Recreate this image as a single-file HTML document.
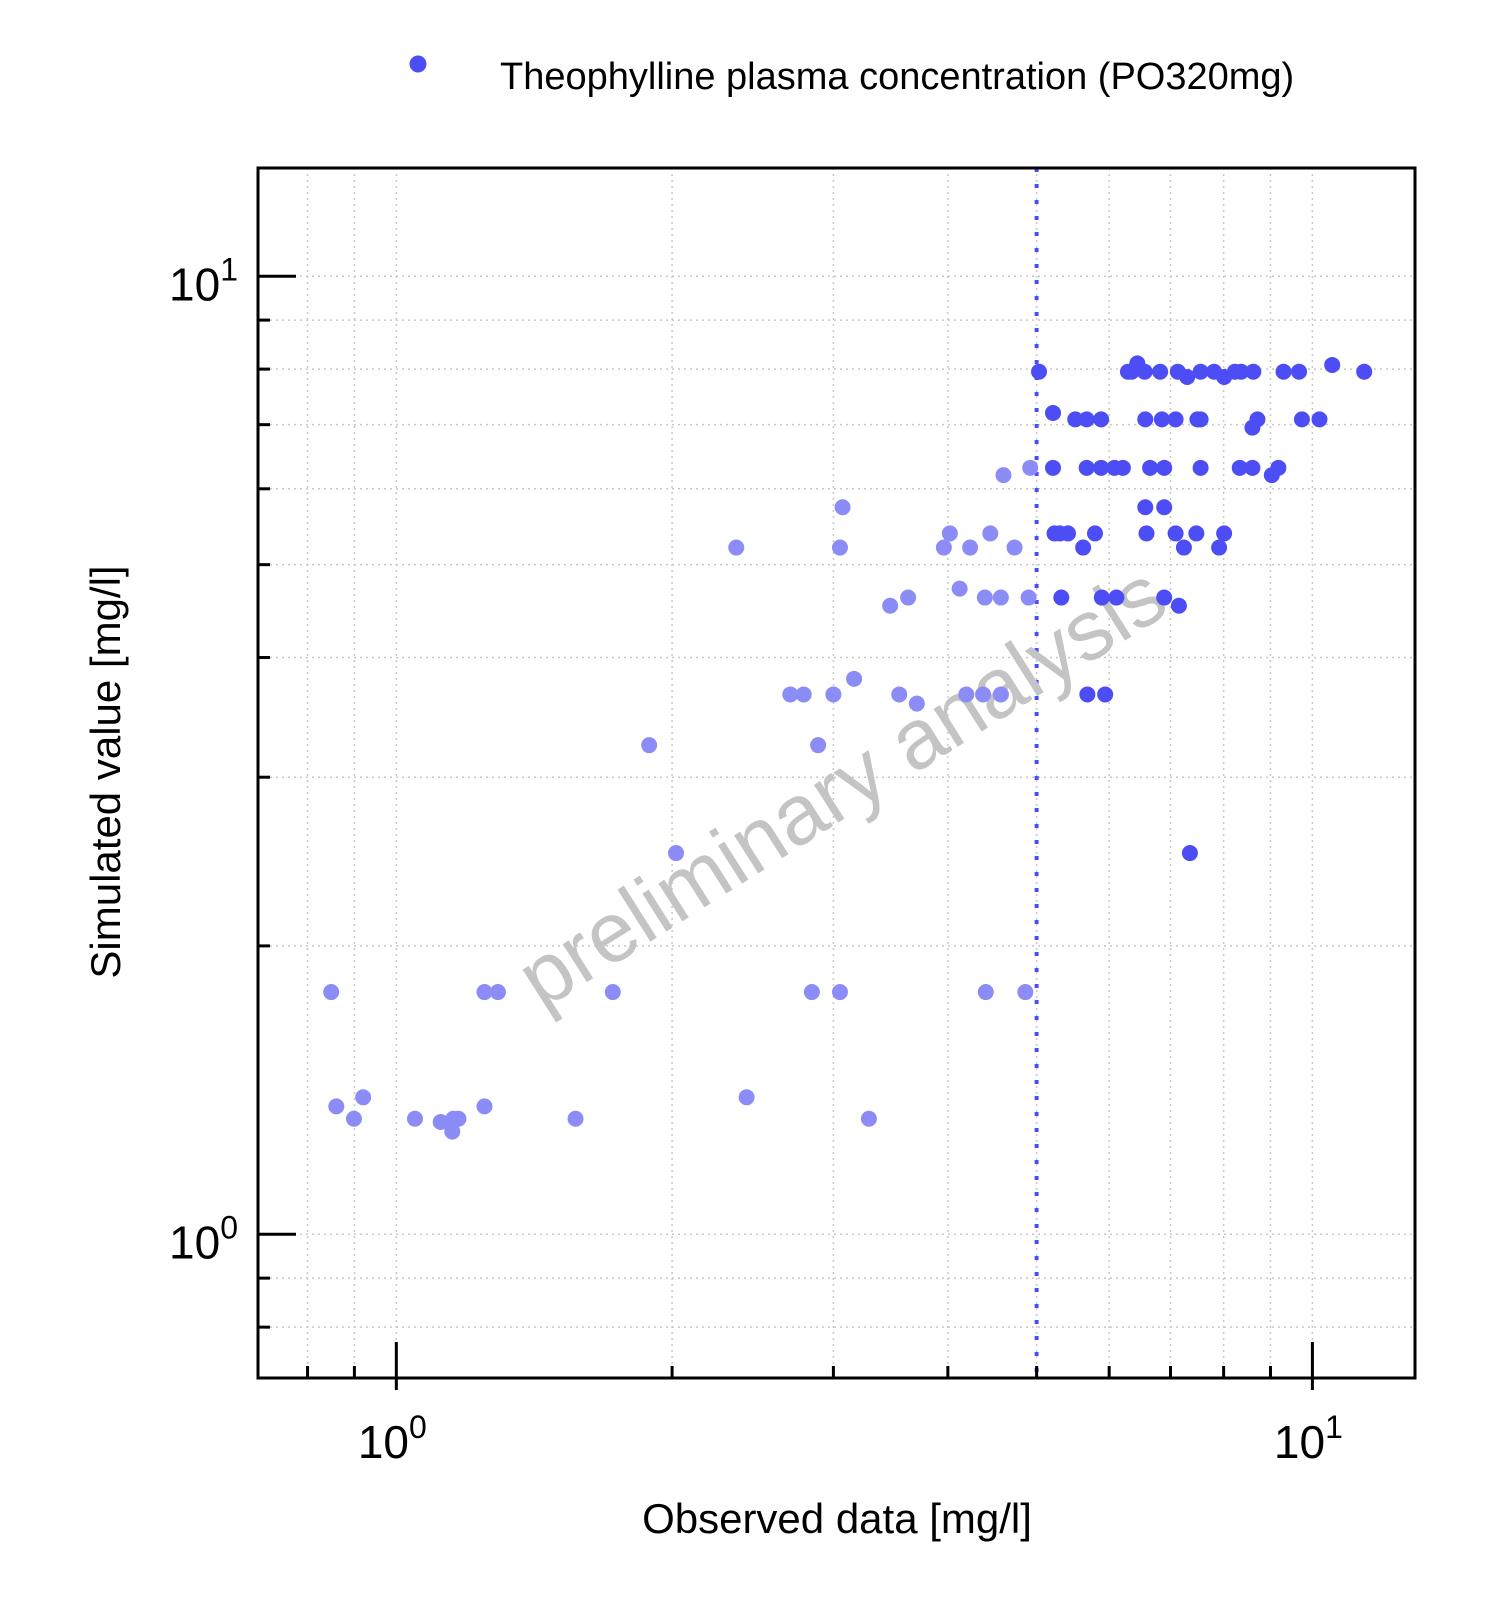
<!DOCTYPE html>
<html><head><meta charset="utf-8"><style>
body{margin:0;background:#fff;}
svg{display:block;font-family:"Liberation Sans",Arial,sans-serif;}
</style></head><body>
<svg id="chart" width="1500" height="1624" viewBox="0 0 1500 1624">
<g id="grid"></g>
<text x="0" y="28" font-size="85" fill="#c4c4c4" text-anchor="middle" transform="translate(842 787) rotate(-32.4)">preliminary analysis</text>
<g id="marks"></g>
<g id="axes"></g>
<g>
<circle cx="418" cy="64" r="8.5" fill="#4d4df5"></circle>
<text x="500" y="89" font-size="38" fill="#000">Theophylline plasma concentration (PO320mg)</text>
</g>
<text x="837" y="1533" font-size="42" text-anchor="middle" fill="#000">Observed data [mg/l]</text>
<text x="0" y="0" font-size="42" text-anchor="middle" fill="#000" transform="translate(120 772) rotate(-90)">Simulated value [mg/l]</text>
</svg>
<script>
const obsValues=[0.849,1.248,1.291,1.723,2.842,3.05,4.40,4.86,
0.860,0.899,0.920,1.048,1.118,1.151,1.154,1.169,1.248,1.569,2.412,3.28,
2.02,1.888,2.887,7.35,
2.692,2.784,3.00,3.54,4.19,4.37,4.57,5.68,5.94,3.16,3.70,
3.62,4.39,4.57,4.90,5.32,5.89,6.11,6.89,3.46,7.15,4.12,
4.02,4.45,5.23,5.30,5.41,5.79,6.59,7.09,7.47,8.01,
2.35,3.05,3.96,4.23,4.73,5.62,7.24,7.91,3.07,6.57,6.89,
4.92,5.21,5.67,5.88,6.08,6.21,6.65,6.89,7.55,8.33,8.60,9.18,4.60,9.03,
5.21,5.51,5.67,5.88,6.57,6.85,7.09,7.49,7.55,8.71,9.74,10.18,8.60,
5.03,6.29,6.35,6.44,6.56,6.82,7.13,7.30,7.55,7.81,8.01,8.23,8.36,8.62,9.30,9.67,10.51,11.39];
const simValues=[1.79,1.79,1.79,1.79,1.79,1.79,1.79,1.79,
1.36,1.32,1.39,1.32,1.31,1.28,1.32,1.32,1.36,1.32,1.39,1.32,
2.50,3.24,3.24,2.50,
3.66,3.66,3.66,3.66,3.66,3.66,3.66,3.66,3.66,3.80,3.58,
4.62,4.62,4.62,4.62,4.62,4.62,4.62,4.62,4.53,4.53,4.72,
5.39,5.39,5.39,5.39,5.39,5.39,5.39,5.39,5.39,5.39,
5.21,5.21,5.21,5.21,5.21,5.21,5.21,5.21,5.74,5.74,5.74,
6.31,6.31,6.31,6.31,6.31,6.31,6.31,6.31,6.31,6.31,6.31,6.31,6.2,6.2,
7.2,7.09,7.09,7.09,7.09,7.09,7.09,7.09,7.09,7.09,7.09,7.09,6.95,
7.95,7.95,7.95,8.11,7.95,7.95,7.95,7.85,7.95,7.95,7.85,7.95,7.95,7.95,7.95,7.95,8.08,7.95];
const lloq=[5];
const majorTicks=[1,10];
const minorTicksX=[0.8,0.9,2,3,4,5,6,7,8,9];
const minorTicksY=[0.8,0.9,2,3,4,5,6,7,8,9];

const L=258,R=1415,T=168,B=1378;
const xMinL=-0.151,xMaxL=1.112,yMinL=-0.150,yMaxL=1.113;
function sx(v){return L+(Math.log10(v)-xMinL)/(xMaxL-xMinL)*(R-L);}
function sy(v){return B-(Math.log10(v)-yMinL)/(yMaxL-yMinL)*(B-T);}
const NS='http://www.w3.org/2000/svg';
function mk(tag,attrs,parent){const e=document.createElementNS(NS,tag);for(const k in attrs)e.setAttribute(k,attrs[k]);parent.appendChild(e);return e;}
const grid=document.getElementById('grid'),axes=document.getElementById('axes'),marks=document.getElementById('marks');
[...majorTicks,...minorTicksX].forEach(v=>{
 const l=mk('line',{x1:sx(v),x2:sx(v),y1:T,y2:B,stroke:'#c8c8c8','stroke-width':1.5,'stroke-dasharray':'2 4'},grid);
 
 
});
[...majorTicks,...minorTicksY].forEach(v=>{
 const l=mk('line',{x1:L,x2:R,y1:sy(v),y2:sy(v),stroke:'#c8c8c8','stroke-width':1.5,'stroke-dasharray':'2 4'},grid);
 
 
});
lloq.forEach(v=>{
 const l=mk('line',{x1:sx(v),x2:sx(v),y1:T,y2:B,stroke:'#4d4df5','stroke-width':4,'stroke-dasharray':'4 12'},grid);
 
 
});
obsValues.forEach((o,i)=>{
 const c=mk('circle',{cx:sx(o),cy:sy(simValues[i]),r:8,fill:o<5?'#8c8cf7':'#4d4df5'},marks);
 
 
});
const box=mk('rect',{x:L,y:T,width:R-L,height:B-T,fill:'none',stroke:'#000','stroke-width':3},axes);


minorTicksX.forEach(v=>{
 const t=mk('line',{x1:sx(v),x2:sx(v),y1:B,y2:B-12,stroke:'#000','stroke-width':3},axes);
 
 
});
minorTicksY.forEach(v=>{
 const t=mk('line',{x1:L,x2:L+12,y1:sy(v),y2:sy(v),stroke:'#000','stroke-width':3},axes);
 
 
});
majorTicks.forEach(v=>{
 const e=Math.round(Math.log10(v));
 const t=mk('line',{x1:sx(v),x2:sx(v),y1:B+12,y2:B-36,stroke:'#000','stroke-width':3},axes);
 
 
 const tx=mk('text',{x:sx(v)-4,y:B+80,'font-size':46,'text-anchor':'middle',fill:'#000'},axes);
 
 
 tx.innerHTML='10<tspan dy="-20" font-size="32">'+e+'</tspan>';
 const t2=mk('line',{x1:L,x2:L+38,y1:sy(v),y2:sy(v),stroke:'#000','stroke-width':3},axes);
 
 
 const ty=mk('text',{x:L-20,y:sy(v)+24,'font-size':46,'text-anchor':'end',fill:'#000'},axes);
 
 
 ty.innerHTML='10<tspan dy="-20" font-size="32">'+e+'</tspan>';
});
</script>
</body></html>
